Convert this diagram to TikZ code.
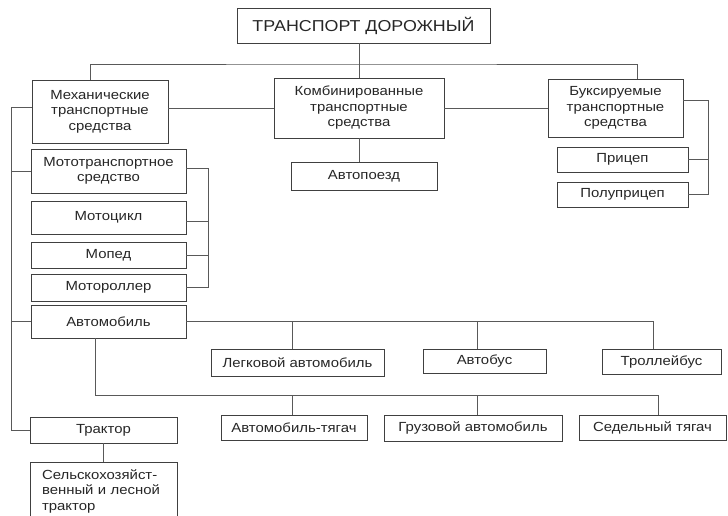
\documentclass[tikz,border=0pt]{standalone}
\usepackage{fontspec}
\setmainfont{Liberation Sans}[FakeStretch=1.13]
\begin{document}
\begin{tikzpicture}[x=1pt,y=-1pt,
	font=\fontsize{13.2}{15.5}\selectfont,
	box/.style={draw=black!75,line width=0.9pt,inner sep=0pt,align=center,text=black!85},
	link/.style={draw=black!65,line width=0.9pt}]
	\useasboundingbox (0,0) rectangle (728,516);
	% top level
	\node[box,minimum width=253pt,minimum height=35pt,font=\fontsize{15.8}{18}\selectfont] (title) at (363.5,25.5) {ТРАНСПОРТ ДОРОЖНЫЙ};
	\node[box,minimum width=136pt,minimum height=63pt] (mech) at (100,111.5) {Механические\\транспортные\\средства};
	\node[box,minimum width=170pt,minimum height=60pt] (comb) at (359,108) {Комбинированные\\транспортные\\средства};
	\node[box,minimum width=135pt,minimum height=58pt] (bux) at (615.5,108) {Буксируемые\\транспортные\\средства};
	\node[box,minimum width=146pt,minimum height=28pt] (avtopoezd) at (364,176) {Автопоезд};
	\node[box,minimum width=131pt,minimum height=25pt] (pricep) at (622.5,159.5) {Прицеп};
	\node[box,minimum width=131pt,minimum height=25pt] (polupricep) at (622.5,194.5) {Полуприцеп};
	% mechanical
	\node[box,minimum width=155pt,minimum height=44pt] (moto) at (108.5,171) {Мототранспортное\\средство};
	\node[box,minimum width=155pt,minimum height=33pt] (motocikl) at (108.5,217.5) {Мотоцикл};
	\node[box,minimum width=155pt,minimum height=26pt] (moped) at (108.5,255) {Мопед};
	\node[box,minimum width=155pt,minimum height=27pt] (motoroller) at (108.5,287.5) {Мотороллер};
	\node[box,minimum width=155pt,minimum height=33pt] (avtomobil) at (108.5,321.5) {Автомобиль};
	\node[box,minimum width=173pt,minimum height=27pt] (legkovoy) at (297.5,362.5) {Легковой автомобиль};
	\node[box,minimum width=123pt,minimum height=24pt] (avtobus) at (484.5,361) {Автобус};
	\node[box,minimum width=119pt,minimum height=25pt] (trolleybus) at (661.5,361.5) {Троллейбус};
	\node[box,minimum width=146pt,minimum height=25pt] (tyagach) at (294,427.5) {Автомобиль-тягач};
	\node[box,minimum width=178pt,minimum height=26pt] (gruzovoy) at (473,428) {Грузовой автомобиль};
	\node[box,minimum width=147pt,minimum height=25pt] (sedelny) at (652.5,427.5) {Седельный тягач};
	\node[box,minimum width=147pt,minimum height=26pt] (traktor) at (103.5,430) {Трактор};
	\node[box,minimum width=147pt,minimum height=58pt,inner xsep=12pt,text width=123pt,align=left] (selsk) at (103.5,491) {Сельскохозяйст-\\венный и лесной\\трактор};
	% helper points
	\coordinate (tb) at (0,64);
	\coordinate (bxr) at (708,100);
	\coordinate (lt) at (11,107);
	\coordinate (mr) at (208,168);
	\coordinate (lb) at (95,395);
	\coordinate (c1) at (292,0);
	\coordinate (c2) at (477,0);
	\coordinate (c3) at (653,0);
	\coordinate (c4) at (658,0);
	% connectors
	\draw[link] (title.south -| comb.north) -- (comb.north);
	\draw[link] ([xshift=-10pt]mech.north) |- (comb.north |- tb) -| ([xshift=21.5pt]bux.north);
	\draw[link] (mech.east |- comb.west) -- (comb.west);
	\draw[link] (comb.east) -- (bux.west);
	\draw[link] (comb.south) -- (comb.south |- avtopoezd.north);
	\draw[link] (bux.east |- bxr) -- (bxr) |- (polupricep.east);
	\draw[link] (pricep.east) -- (pricep.east -| bxr);
	\draw[link] (mech.west |- lt) -- (lt) |- (traktor.west);
	\draw[link] (moto.west) -- (moto.west -| lt);
	\draw[link] (avtomobil.west) -- (avtomobil.west -| lt);
	\draw[link] (moto.east |- mr) -- (mr) |- (motoroller.east);
	\draw[link] ([yshift=-4pt]motocikl.east) -- ([yshift=-4pt]motocikl.east -| mr);
	\draw[link] (moped.east) -- (moped.east -| mr);
	\draw[link] (avtomobil.east) -| (c3 |- trolleybus.north);
	\draw[link] (c1 |- avtomobil.east) -- (c1 |- legkovoy.north);
	\draw[link] (c2 |- avtomobil.east) -- (c2 |- avtobus.north);
	\draw[link] (lb |- avtomobil.south) -- (lb) -| (c4 |- sedelny.north);
	\draw[link] (c1 |- lb) -- (c1 |- tyagach.north);
	\draw[link] (c2 |- lb) -- (c2 |- gruzovoy.north);
	\draw[link] (traktor.south) -- (selsk.north);
\end{tikzpicture}
\end{document}
